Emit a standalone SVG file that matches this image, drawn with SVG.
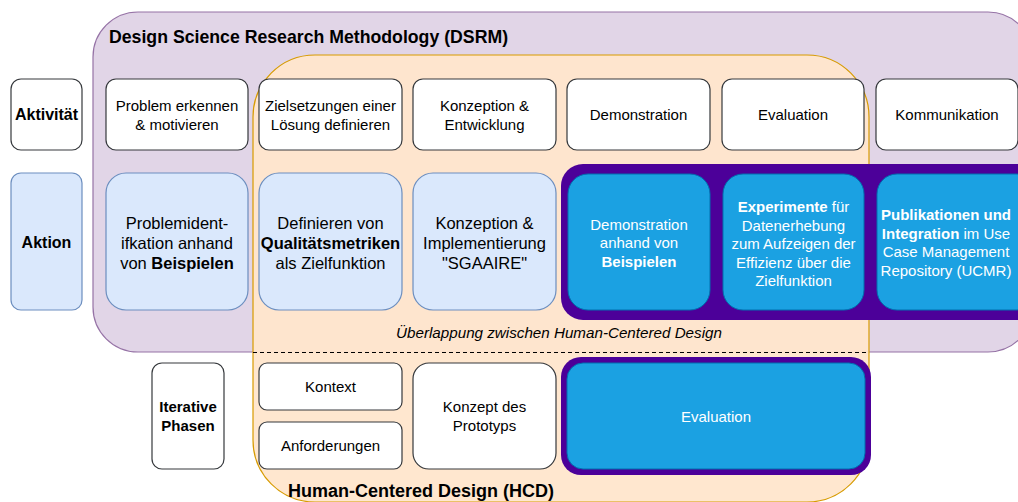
<svg xmlns="http://www.w3.org/2000/svg" width="1018" height="502" viewBox="0 0 1018 502">
<style>
text{font-family:"Liberation Sans",Arial,sans-serif;fill:#000}
.t15{font-size:15px;text-anchor:middle}
.t16{font-size:16.5px;text-anchor:middle}
.w{fill:#fff}
.b{font-weight:bold}
.box{fill:#fff;stroke:#36393d;stroke-width:1.2}
.lb{fill:#dae8fc;stroke:#6c8ebf;stroke-width:1.2}
.blue{fill:#1ba1e2;stroke:#006eaf;stroke-width:1}
</style>
<g id="dsrm">
<rect x="93" y="12" width="940" height="340" rx="45" fill="#e1d5e7" stroke="#9673a6" stroke-width="1.2"/>
<text x="109" y="43" style="font-size:17.7px;font-weight:bold">Design Science Research Methodology (DSRM)</text>
</g>
<g id="hcd">
<rect x="253" y="55" width="616" height="447" rx="62" fill="#ffe6cc" stroke="#d79b00" stroke-width="1.2" fill-opacity="0.95"/>
<text x="421" y="497" style="font-size:18px;font-weight:bold;text-anchor:middle">Human-Centered Design (HCD)</text>
</g>
<g id="overlap">
<text x="559" y="338" style="font-size:15.2px;font-style:italic;text-anchor:middle">Überlappung zwischen Human-Centered Design</text>
</g>
<g id="connectors">
<line x1="253" y1="352.5" x2="869" y2="352.5" stroke="#000" stroke-width="1" stroke-dasharray="4 3"/>
</g>
<g id="aktivitaet">
<rect class="box" x="11" y="79" width="71" height="71" rx="10"/>
<text x="46.5" y="120" style="font-size:16px;font-weight:bold;text-anchor:middle">Aktivität</text>
</g>
<g id="a1"><rect class="box" x="106" y="79" width="142" height="71" rx="10"/>
<text class="t15" x="177" y="110.5">Problem erkennen</text><text class="t15" x="177" y="129.5">&amp; motivieren</text></g>
<g id="a2"><rect class="box" x="259" y="79" width="143" height="71" rx="10"/>
<text class="t15" x="330.5" y="110.5">Zielsetzungen einer</text><text class="t15" x="330.5" y="129.5">Lösung definieren</text></g>
<g id="a3"><rect class="box" x="413" y="79" width="143" height="71" rx="10"/>
<text class="t15" x="484.5" y="110.5">Konzeption &amp;</text><text class="t15" x="484.5" y="129.5">Entwicklung</text></g>
<g id="a4"><rect class="box" x="567" y="79" width="143" height="71" rx="10"/>
<text class="t15" x="638.5" y="120">Demonstration</text></g>
<g id="a5"><rect class="box" x="722" y="79" width="142" height="71" rx="10"/>
<text class="t15" x="793" y="120">Evaluation</text></g>
<g id="a6"><rect class="box" x="876" y="79" width="142" height="71" rx="10"/>
<text class="t15" x="947" y="120">Kommunikation</text></g>
<g id="aktion">
<rect class="lb" x="11" y="173" width="71" height="137" rx="10"/>
<text x="46.5" y="248" style="font-size:16px;font-weight:bold;text-anchor:middle">Aktion</text>
</g>
<g id="b1"><rect class="lb" x="106" y="173" width="142" height="137" rx="20"/>
<text class="t16" x="177" y="228.5">Problemident-</text><text class="t16" x="177" y="248.5">ifkation anhand</text><text class="t16" x="177" y="268.5">von <tspan class="b">Beispielen</tspan></text></g>
<g id="b2"><rect class="lb" x="259" y="173" width="143" height="137" rx="20"/>
<text class="t16" x="330.5" y="228.5">Definieren von</text><text class="t16" x="330.5" y="248.5"><tspan class="b">Qualitätsmetriken</tspan></text><text class="t16" x="330.5" y="268.5">als Zielfunktion</text></g>
<g id="b3"><rect class="lb" x="413" y="173" width="143" height="137" rx="20"/>
<text class="t16" x="484.5" y="228.5">Konzeption &amp;</text><text class="t16" x="484.5" y="248.5">Implementierung</text><text class="t16" x="484.5" y="268.5">"SGAAIRE"</text></g>
<g id="highlight">
<rect x="561" y="164" width="480" height="156" rx="22" fill="#4c0099"/>
</g>
<g id="b4"><rect class="blue" x="568" y="174" width="142" height="136" rx="20"/>
<text class="t15 w" x="639" y="229.5">Demonstration</text><text class="t15 w" x="639" y="248">anhand von</text><text class="t15 w b" x="639" y="266.5">Beispielen</text></g>
<g id="b5"><rect class="blue" x="723" y="174" width="141" height="136" rx="20"/>
<text class="t15 w" x="793.5" y="212"><tspan class="b">Experimente</tspan> für</text><text class="t15 w" x="793.5" y="230.5">Datenerhebung</text><text class="t15 w" x="793.5" y="249">zum Aufzeigen der</text><text class="t15 w" x="793.5" y="267.5">Effizienz über die</text><text class="t15 w" x="793.5" y="286">Zielfunktion</text></g>
<g id="b6"><rect class="blue" x="877" y="174" width="160" height="136" rx="20"/>
<text class="t15 w" x="946" y="219.5"><tspan class="b">Publikationen und</tspan></text><text class="t15 w" x="946" y="238.5"><tspan class="b">Integration</tspan> im Use</text><text class="t15 w" x="946" y="257">Case Management</text><text class="t15 w" x="946" y="275.5">Repository (UCMR)</text></g>
<g id="iterative">
<rect class="box" x="152" y="363" width="72" height="106" rx="10"/>
<text class="t15 b" x="188" y="412">Iterative</text><text class="t15 b" x="188" y="431">Phasen</text>
</g>
<g id="c1"><rect class="box" x="259" y="363" width="143" height="47" rx="8"/>
<text class="t15" x="330.5" y="392">Kontext</text></g>
<g id="c2"><rect class="box" x="259" y="422" width="143" height="47" rx="8"/>
<text class="t15" x="330.5" y="451">Anforderungen</text></g>
<g id="c3"><rect class="box" x="413" y="363" width="143" height="106" rx="16"/>
<text class="t15" x="484.5" y="412">Konzept des</text><text class="t15" x="484.5" y="431">Prototyps</text></g>
<g id="c4">
<rect x="561" y="357" width="310" height="118" rx="20" fill="#4c0099"/>
<rect class="blue" x="567" y="363" width="298" height="106" rx="16"/>
<text class="t15 w" x="716" y="421.5">Evaluation</text>
</g>
</svg>
